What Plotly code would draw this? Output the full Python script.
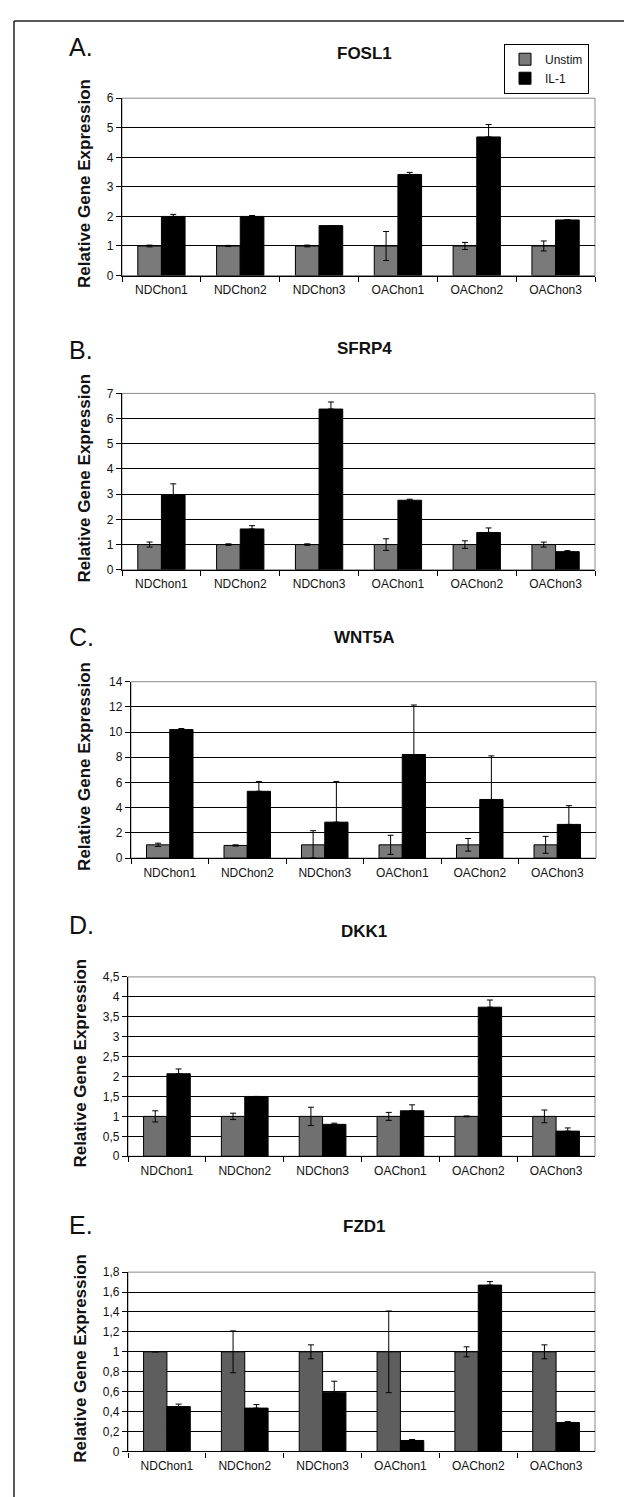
import plotly.graph_objects as go

W, H = 632, 1497

categories = ["NDChon1", "NDChon2", "NDChon3", "OAChon1", "OAChon2", "OAChon3"]
series_names = ["Unstim", "IL-1"]

genes = ["FOSL1", "SFRP4", "WNT5A", "DKK1", "FZD1"]
panel_letters = ["A.", "B.", "C.", "D.", "E."]

# FOSL1
fosl1_unstim = [1.0, 1.0, 1.0, 1.0, 1.0, 1.0]
fosl1_unstim_err = [0.03, 0.02, 0.03, 0.49, 0.12, 0.17]
fosl1_il1 = [2.0, 2.0, 1.69, 3.42, 4.69, 1.88]
fosl1_il1_err = [0.07, 0.03, 0.0, 0.07, 0.42, 0.0]

# SFRP4
sfrp4_unstim = [1.0, 1.0, 1.0, 1.0, 1.0, 1.0]
sfrp4_unstim_err = [0.1, 0.03, 0.03, 0.23, 0.15, 0.1]
sfrp4_il1 = [2.98, 1.62, 6.38, 2.76, 1.48, 0.72]
sfrp4_il1_err = [0.43, 0.13, 0.28, 0.04, 0.18, 0.04]

# WNT5A
wnt5a_unstim = [1.05, 1.0, 1.05, 1.05, 1.05, 1.05]
wnt5a_unstim_err = [0.13, 0.05, 1.12, 0.76, 0.5, 0.67]
wnt5a_il1 = [10.2, 5.3, 2.85, 8.22, 4.65, 2.67]
wnt5a_il1_err = [0.08, 0.77, 3.22, 3.93, 3.46, 1.49]

# DKK1
dkk1_unstim = [1.0, 1.0, 1.0, 1.0, 1.0, 1.0]
dkk1_unstim_err = [0.14, 0.08, 0.23, 0.1, 0.01, 0.16]
dkk1_il1 = [2.07, 1.5, 0.8, 1.14, 3.74, 0.63]
dkk1_il1_err = [0.12, 0.0, 0.03, 0.15, 0.18, 0.08]

# FZD1
fzd1_unstim = [1.0, 1.0, 1.0, 1.0, 1.0, 1.0]
fzd1_unstim_err = [0.0, 0.21, 0.07, 0.41, 0.05, 0.07]
fzd1_il1 = [0.45, 0.435, 0.595, 0.11, 1.67, 0.29]
fzd1_il1_err = [0.025, 0.035, 0.11, 0.01, 0.035, 0.01]

y_max = [6, 7, 14, 4.5, 1.8]
y_dtick = [1, 1, 2, 0.5, 0.2]

unstim_vals = [fosl1_unstim, sfrp4_unstim, wnt5a_unstim, dkk1_unstim, fzd1_unstim]
unstim_errs = [fosl1_unstim_err, sfrp4_unstim_err, wnt5a_unstim_err, dkk1_unstim_err, fzd1_unstim_err]
il1_vals = [fosl1_il1, sfrp4_il1, wnt5a_il1, dkk1_il1, fzd1_il1]
il1_errs = [fosl1_il1_err, sfrp4_il1_err, wnt5a_il1_err, dkk1_il1_err, fzd1_il1_err]

# layout in pixels: (left, right, top, bottom) of each plot area
plot_boxes = [
    (114, 587, 84, 263),
    (114, 587, 382, 560),
    (123, 588, 673, 851),
    (120, 587, 971, 1152),
    (120, 587, 1269, 1450),
]
letter_y = [32, 338, 628, 919, 1221]
title_y = [39, 337, 628, 925, 1223]
ytitle_x = [77, 77, 77, 73, 73]
unstim_colors = ["#7a7a7a", "#7a7a7a", "#7a7a7a", "#707070", "#5e5e5e"]

FONT = "Liberation Sans, Arial, sans-serif"

def px_x(p):
    return p / W

def px_y(p):
    return 1 - p / H

fig = go.Figure()
annotations = []
shapes = []

for i in range(5):
    xa = "x" if i == 0 else f"x{i+1}"
    ya = "y" if i == 0 else f"y{i+1}"
    l, r, t, b = plot_boxes[i]

    u = unstim_vals[i]
    ue = unstim_errs[i]
    v = il1_vals[i]
    ve = il1_errs[i]

    fig.add_trace(go.Bar(
        x=categories, y=u, name=series_names[0], xaxis=xa, yaxis=ya,
        marker=dict(color=unstim_colors[i], line=dict(color="black", width=1)),
        error_y=dict(type="data", symmetric=False, array=ue,
                     arrayminus=[min(e, val) for e, val in zip(ue, u)],
                     color="black", thickness=1, width=3),
        showlegend=(i == 0), legendgroup="u",
    ))
    fig.add_trace(go.Bar(
        x=categories, y=v, name=series_names[1], xaxis=xa, yaxis=ya,
        marker=dict(color="black", line=dict(color="black", width=1)),
        error_y=dict(type="data", symmetric=False, array=ve,
                     arrayminus=[0] * len(ve),
                     color="black", thickness=1, width=3),
        showlegend=(i == 0), legendgroup="i",
    ))

    xkey = "xaxis" if i == 0 else f"xaxis{i+1}"
    ykey = "yaxis" if i == 0 else f"yaxis{i+1}"
    fig.layout[xkey] = dict(
        domain=[px_x(l), px_x(r)], anchor=ya,
        showline=True, linecolor="black", linewidth=1.3,
        ticks="outside", ticklen=5, tickcolor="black", tickwidth=1,
        tickson="boundaries", showgrid=False,
        tickfont=dict(family=FONT, size=12, color="#111"),
        ticklabelstandoff=3, fixedrange=True,
    )
    fig.layout[ykey] = dict(
        domain=[px_y(b), px_y(t)], anchor=xa,
        range=[0, y_max[i]], dtick=y_dtick[i], tick0=0,
        showline=True, linecolor="black", linewidth=1.3,
        ticks="outside", ticklen=5, tickcolor="black", tickwidth=1,
        showgrid=True, gridcolor="black", gridwidth=1.3,
        zeroline=False,
        tickfont=dict(family=FONT, size=12, color="#111"),
        fixedrange=True,
    )

    # grey plot-area border
    shapes.append(dict(type="rect", xref="paper", yref="paper",
                       x0=px_x(l), x1=px_x(r), y0=px_y(b), y1=px_y(t),
                       line=dict(color="#8a8a8a", width=1), layer="below"))

    annotations.append(dict(
        text=panel_letters[i], xref="paper", yref="paper",
        x=px_x(59), y=px_y(letter_y[i]), xanchor="left", yanchor="middle",
        showarrow=False, font=dict(family=FONT, size=25, color="#111"),
    ))
    annotations.append(dict(
        text=f"<b>{genes[i]}</b>", xref="paper", yref="paper",
        x=px_x(356), y=px_y(title_y[i]), xanchor="center", yanchor="middle",
        showarrow=False, font=dict(family=FONT, size=17, color="#111"),
    ))
    annotations.append(dict(
        text="<b>Relative Gene Expression</b>", xref="paper", yref="paper",
        x=px_x(ytitle_x[i]), y=px_y((t + b) / 2 - 3), xanchor="center", yanchor="middle",
        textangle=-90, showarrow=False, font=dict(family=FONT, size=17, color="#111"),
    ))

# outer frame (top and left lines)
shapes.append(dict(type="line", xref="paper", yref="paper",
                   x0=px_x(6), x1=1, y0=px_y(6), y1=px_y(6),
                   line=dict(color="#222", width=1.5)))
shapes.append(dict(type="line", xref="paper", yref="paper",
                   x0=px_x(6), x1=px_x(6), y0=0, y1=px_y(6),
                   line=dict(color="#222", width=1.5)))

fig.update_layout(
    width=W, height=H,
    margin=dict(l=0, r=0, t=0, b=0),
    paper_bgcolor="white", plot_bgcolor="white",
    barmode="group", bargap=0.4, bargroupgap=0,
    separators=",.",
    font=dict(family=FONT, size=12, color="#111"),
    annotations=annotations, shapes=shapes,
    legend=dict(
        x=px_x(581), y=px_y(29), xanchor="right", yanchor="top",
        bordercolor="black", borderwidth=1, bgcolor="white",
        font=dict(family=FONT, size=12, color="#111"),
        itemwidth=30, tracegroupgap=0,
    ),
)

fig.write_html("out.html")
